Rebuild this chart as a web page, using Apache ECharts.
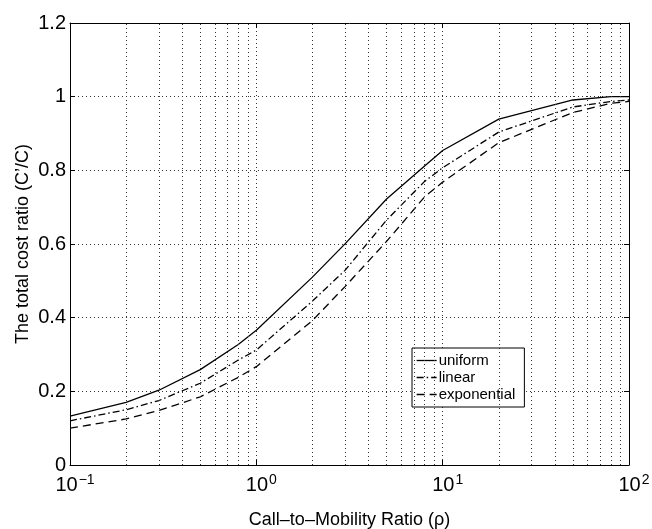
<!DOCTYPE html>
<html>
<head>
<meta charset="utf-8">
<script src="https://cdn.jsdelivr.net/npm/echarts@6/dist/echarts.min.js"></script>
<style>
  html, body { margin: 0; padding: 0; background: #fff; }
  #chart { width: 652px; height: 529px; }
</style>
</head>
<body>
<div id="chart"></div>
<script>
// Call-to-mobility ratio (rho) sample points
const rho = [0.1, 0.2, 0.3, 0.5, 0.8, 1, 2, 3, 5, 8, 10, 20, 50, 80, 100];

// Total cost ratio C'/C for each paging distribution
const uniform     = [0.133, 0.170, 0.203, 0.259, 0.327, 0.366, 0.510, 0.601, 0.722, 0.812, 0.854, 0.939, 0.991, 1.000, 1.000];
const linear      = [0.120, 0.150, 0.175, 0.222, 0.285, 0.312, 0.445, 0.529, 0.665, 0.770, 0.807, 0.904, 0.972, 0.987, 0.991];
const exponential = [0.100, 0.125, 0.148, 0.185, 0.238, 0.267, 0.392, 0.485, 0.607, 0.728, 0.768, 0.875, 0.957, 0.982, 0.987];

const seriesNames = ['uniform', 'linear', 'exponential'];

// Minor (2..9 per decade) vertical grid positions on the log axis
const minorGridX = [0.2, 0.3, 0.4, 0.5, 0.6, 0.7, 0.8, 0.9,
                    2, 3, 4, 5, 6, 7, 8, 9,
                    20, 30, 40, 50, 60, 70, 80, 90];

const FONT = '"Liberation Sans", Arial, Helvetica, sans-serif';
const DOT = [1, 3];
const GRID_COLOR = '#333';

function pairs(xs, ys) { return xs.map((x, i) => [x, ys[i]]); }

function powerLabel(v) {
  const e = Math.round(Math.log10(v));
  return '{b|10}{s|' + (e < 0 ? '\u2212' + (-e) : e) + '}';
}

const chart = echarts.init(document.getElementById('chart'), null, { renderer: 'canvas' });

const option = {
  backgroundColor: '#fff',
  animation: false,
  textStyle: { fontFamily: FONT, color: '#000' },
  grid: { left: 70, top: 23, right: 23, bottom: 64, containLabel: false, outerBoundsMode: 'none' },
  legend: {
    data: seriesNames,
    orient: 'vertical',
    left: 412,
    top: 348,
    padding: [5, 9, 5, 4],
    itemGap: 2,
    itemWidth: 20,
    itemHeight: 15,
    backgroundColor: '#fff',
    borderColor: '#000',
    borderWidth: 1,
    borderRadius: 0,
    itemStyle: { opacity: 0 },
    lineStyle: { width: 1.3 },
    textStyle: { fontFamily: FONT, fontSize: 15, color: '#000', padding: [0, 0, 0, -3] }
  },
  xAxis: [
    {
      type: 'log',
      logBase: 10,
      min: 0.1,
      max: 100,
      name: 'Call\u2013to\u2013Mobility Ratio (\u03c1)',
      nameLocation: 'middle',
      nameGap: 46,
      nameMoveOverlap: false,
      nameTextStyle: { fontFamily: FONT, fontSize: 18, color: '#000' },
      axisLine: { show: true, onZero: false, lineStyle: { color: '#000', width: 1 } },
      axisTick: { show: true, inside: true, length: 5, lineStyle: { color: '#000' } },
      axisLabel: {
        margin: 8,
        formatter: powerLabel,
        padding: [0, 0, 0, 10],
        rich: {
          b: { fontFamily: FONT, fontSize: 20, color: '#000' },
          s: { fontFamily: FONT, fontSize: 14, color: '#000', padding: [0, 0, 11, 1] }
        }
      },
      splitLine: { show: true, lineStyle: { color: GRID_COLOR, type: DOT, width: 1 } },
      minorTick: { show: false },
      minorSplitLine: { show: false }
    },
    {
      type: 'log',
      logBase: 10,
      min: 0.1,
      max: 100,
      position: 'top',
      axisLine: { show: true, onZero: false, lineStyle: { color: '#000', width: 1 } },
      axisTick: { show: true, inside: true, length: 5, lineStyle: { color: '#000' } },
      axisLabel: { show: false },
      splitLine: { show: false }
    }
  ],
  yAxis: [
    {
      type: 'value',
      min: 0,
      max: 1.2,
      interval: 0.2,
      name: 'The total cost ratio (C\u2019/C)',
      nameLocation: 'middle',
      nameGap: 38,
      nameMoveOverlap: false,
      nameTextStyle: { fontFamily: FONT, fontSize: 18, color: '#000' },
      axisLine: { show: true, onZero: false, lineStyle: { color: '#000', width: 1 } },
      axisTick: { show: true, inside: true, length: 5, lineStyle: { color: '#000' } },
      axisLabel: { margin: 4, fontFamily: FONT, fontSize: 20, color: '#000' },
      splitLine: { show: true, lineStyle: { color: GRID_COLOR, type: DOT, width: 1 } }
    },
    {
      type: 'value',
      min: 0,
      max: 1.2,
      interval: 0.2,
      position: 'right',
      axisLine: { show: true, onZero: false, lineStyle: { color: '#000', width: 1 } },
      axisTick: { show: true, inside: true, length: 5, lineStyle: { color: '#000' } },
      axisLabel: { show: false },
      splitLine: { show: false }
    }
  ],
  series: [
    {
      name: 'minor-grid',
      type: 'line',
      data: [],
      silent: true,
      z: 1,
      markLine: {
        silent: true,
        symbol: 'none',
        label: { show: false },
        animation: false,
        lineStyle: { color: GRID_COLOR, type: DOT, width: 1 },
        emphasis: { disabled: true },
        data: minorGridX.map(v => ({ xAxis: v }))
      }
    },
    {
      name: 'uniform',
      type: 'line',
      data: pairs(rho, uniform),
      symbol: 'none',
      z: 3,
      lineStyle: { color: '#000', width: 1.3, type: 'solid' },
      itemStyle: { color: '#000' }
    },
    {
      name: 'linear',
      type: 'line',
      data: pairs(rho, linear),
      symbol: 'none',
      z: 3,
      lineStyle: { color: '#000', width: 1.3, type: [7, 3, 1.5, 3] },
      itemStyle: { color: '#000' }
    },
    {
      name: 'exponential',
      type: 'line',
      data: pairs(rho, exponential),
      symbol: 'none',
      z: 3,
      lineStyle: { color: '#000', width: 1.3, type: [8, 5] },
      itemStyle: { color: '#000' }
    }
  ]
};

chart.setOption(option);
</script>
</body>
</html>
